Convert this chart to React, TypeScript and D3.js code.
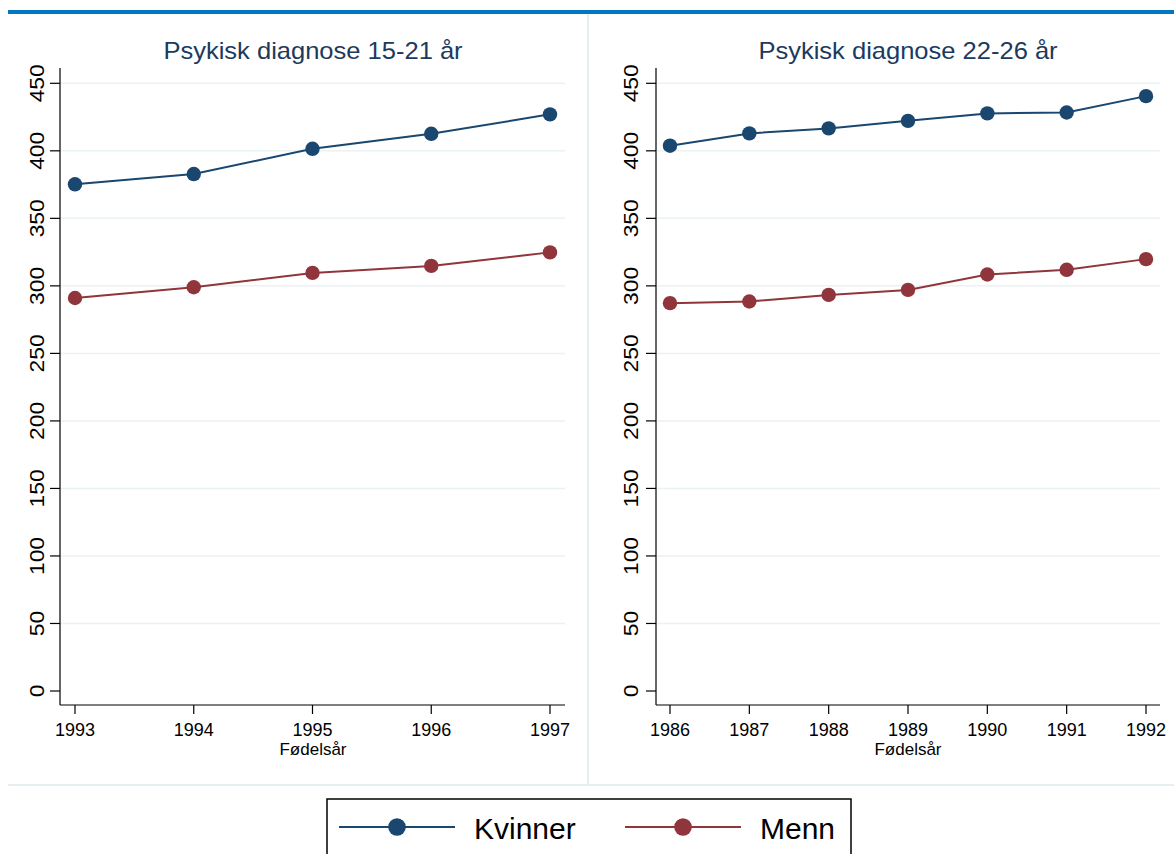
import React, { useEffect, useRef } from 'react'
import * as d3 from 'd3'

const leftYears = [1993, 1994, 1995, 1996, 1997]
const leftKvinner = [375.2, 382.8, 401.5, 412.6, 427]
const leftMenn = [291, 299, 309.6, 314.8, 324.8]

const rightYears = [1986, 1987, 1988, 1989, 1990, 1991, 1992]
const rightKvinner = [403.8, 412.9, 416.6, 422.2, 427.7, 428.4, 440.5]
const rightMenn = [287.2, 288.4, 293.3, 297, 308.4, 311.9, 319.8]

const yTicks = [0, 50, 100, 150, 200, 250, 300, 350, 400, 450]
const titles = ['Psykisk diagnose 15-21 år', 'Psykisk diagnose 22-26 år']
const xTitle = 'Fødelsår'
const seriesNames = ['Kvinner', 'Menn']
const colors = ['#1a476f', '#90353b']

const FONT = "'Liberation Sans', Arial, sans-serif"

const App: React.FC = () => {
  const svgRef = useRef<SVGSVGElement>(null)

  useEffect(() => {
    if (!svgRef.current) return
    const svg = d3.select(svgRef.current)
    svg.selectAll('*').remove()

    // top banner line
    svg.append('rect').attr('x', 8).attr('y', 10).attr('width', 1166).attr('height', 4).attr('fill', '#0077c0')

    // panel separators
    svg.append('line').attr('x1', 588).attr('x2', 588).attr('y1', 14).attr('y2', 785)
      .attr('stroke', '#e6eef1').attr('stroke-width', 2)
    svg.append('line').attr('x1', 8).attr('x2', 1174).attr('y1', 785).attr('y2', 785)
      .attr('stroke', '#e6eef1').attr('stroke-width', 2)

    const panels = [
      { years: leftYears, k: leftKvinner, m: leftMenn, title: titles[0], axisX: 60, x0: 75, x1: 550, right: 565, cx: 313, labOff: 16 },
      { years: rightYears, k: rightKvinner, m: rightMenn, title: titles[1], axisX: 656, x0: 670, x1: 1146, right: 1160, cx: 908, labOff: 18 }
    ]

    const y = d3.scaleLinear().domain([0, 450]).range([691, 83.3])
    const top = 68
    const bottom = 705

    panels.forEach(p => {
      const g = svg.append('g')
      const x = d3.scaleLinear()
        .domain([p.years[0], p.years[p.years.length - 1]])
        .range([p.x0, p.x1])

      // gridlines
      g.selectAll('.grid')
        .data(yTicks.filter(t => t > 0))
        .enter()
        .append('line')
        .attr('x1', p.axisX + 1).attr('x2', p.right)
        .attr('y1', d => y(d)).attr('y2', d => y(d))
        .attr('stroke', '#eaf2f3').attr('stroke-width', 1.5)

      // axes lines
      g.append('line').attr('x1', p.axisX).attr('x2', p.axisX).attr('y1', top).attr('y2', bottom)
        .attr('stroke', '#000').attr('stroke-width', 1.2)
      g.append('line').attr('x1', p.axisX).attr('x2', p.right).attr('y1', bottom).attr('y2', bottom)
        .attr('stroke', '#000').attr('stroke-width', 1.2)

      // y ticks
      g.selectAll('.ytick')
        .data(yTicks)
        .enter()
        .append('line')
        .attr('x1', p.axisX - 10).attr('x2', p.axisX)
        .attr('y1', d => y(d)).attr('y2', d => y(d))
        .attr('stroke', '#000').attr('stroke-width', 1.2)

      g.selectAll('.ylab')
        .data(yTicks)
        .enter()
        .append('text')
        .attr('transform', d => `translate(${p.axisX - p.labOff},${y(d)}) rotate(-90) scale(1.14,1)`)
        .attr('text-anchor', 'middle')
        .style('font-family', FONT)
        .style('font-size', '20px')
        .style('fill', '#000')
        .text(d => d)

      // x ticks
      g.selectAll('.xtick')
        .data(p.years)
        .enter()
        .append('line')
        .attr('x1', d => x(d)).attr('x2', d => x(d))
        .attr('y1', bottom).attr('y2', bottom + 9)
        .attr('stroke', '#000').attr('stroke-width', 1.2)

      g.selectAll('.xlab')
        .data(p.years)
        .enter()
        .append('text')
        .attr('x', d => x(d))
        .attr('y', 736)
        .attr('text-anchor', 'middle')
        .style('font-family', FONT)
        .style('font-size', '18px')
        .style('fill', '#000')
        .text(d => d)

      g.append('text')
        .attr('x', p.cx).attr('y', 755)
        .attr('text-anchor', 'middle')
        .style('font-family', FONT)
        .style('font-size', '17px')
        .style('fill', '#000')
        .text(xTitle)

      g.append('text')
        .attr('transform', `translate(${p.cx},59) scale(1.11,1)`)
        .attr('text-anchor', 'middle')
        .style('font-family', FONT)
        .style('font-size', '23px')
        .style('fill', '#1c3a5e')
        .text(p.title)

      const series = [p.k, p.m]
      series.forEach((vals, si) => {
        const pts = vals.map((v, i) => [p.years[i], v] as [number, number])
        const line = d3.line<[number, number]>().x(d => x(d[0])).y(d => y(d[1]))
        g.append('path')
          .datum(pts)
          .attr('fill', 'none')
          .attr('stroke', colors[si])
          .attr('stroke-width', 2)
          .attr('d', line)
        g.selectAll(`.pt${si}`)
          .data(pts)
          .enter()
          .append('circle')
          .attr('cx', d => x(d[0]))
          .attr('cy', d => y(d[1]))
          .attr('r', 7.2)
          .attr('fill', colors[si])
      })
    })

    // legend
    const legend = svg.append('g')
    legend.append('rect')
      .attr('x', 327).attr('y', 799).attr('width', 524).attr('height', 70)
      .attr('fill', '#fff').attr('stroke', '#000').attr('stroke-width', 1.5)
    const legendX = [339, 625]
    seriesNames.forEach((name, i) => {
      const lx = legendX[i]
      legend.append('line')
        .attr('x1', lx).attr('x2', lx + 116).attr('y1', 827).attr('y2', 827)
        .attr('stroke', colors[i]).attr('stroke-width', 2)
      legend.append('circle')
        .attr('cx', lx + 58).attr('cy', 827).attr('r', 8.8)
        .attr('fill', colors[i])
      legend.append('text')
        .attr('x', lx + 135).attr('y', 839)
        .style('font-family', FONT)
        .style('font-size', '30px')
        .style('fill', '#000')
        .text(name)
    })
  }, [])

  return (
    <svg
      ref={svgRef}
      width={1174}
      height={854}
      style={{ position: 'absolute', left: 0, top: 0, background: '#fff' }}
    />
  )
}

export default App
